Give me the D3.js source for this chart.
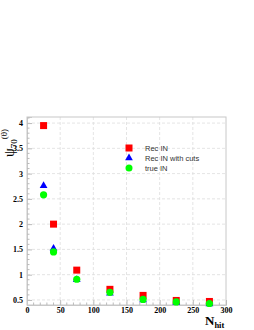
<!DOCTYPE html>
<html>
<head>
<meta charset="utf-8">
<script src="https://cdn.jsdelivr.net/npm/d3@7"></script>
<style>
  body { margin: 0; background: #fff; }
  svg { display: block; }
  .tick_label { font-family: "Liberation Serif", "DejaVu Serif", serif; font-weight: bold; font-size: 8px; fill: #000; }
  .legend_text { font-family: "Liberation Sans", Arial, sans-serif; font-size: 7.5px; fill: #333; }
  .grid { stroke: #ddd; stroke-width: 0.8; stroke-dasharray: 3,2; }
</style>
</head>
<body>
<svg id="chart" width="254" height="330"></svg>
<script>
let nhit = [25, 40, 75, 125, 175, 225, 275];
let recIn = [3.95, 2.0, 1.09, 0.71, 0.59, 0.49, 0.47];
let recInCuts = [2.76, 1.52, 0.90, 0.63, 0.50, 0.45, 0.42];
let trueIn = [2.58, 1.45, 0.91, 0.65, 0.51, 0.46, 0.43];
let xTicks = [0, 50, 100, 150, 200, 250, 300];
let yTicks = [0.5, 1, 1.5, 2, 2.5, 3, 3.5, 4];
let legendLabels = ["Rec IN", "Rec IN with cuts", "true IN"];

let svg = d3.select("#chart");

let xScale = d3.scaleLinear()
    .domain([0, 300])
    .range([27, 226]);

let yScale = d3.scaleLinear()
    .domain([0.4, 4.12])
    .range([305, 117]);

// grid
svg.append("g")
    .selectAll("line")
    .data(xTicks.slice(1, -1))
    .enter()
    .append("line")
    .attr("class", "grid")
    .attr("x1", d => xScale(d)).attr("x2", d => xScale(d))
    .attr("y1", yScale.range()[0]).attr("y2", yScale.range()[1]);

svg.append("g")
    .selectAll("line")
    .data(yTicks)
    .enter()
    .append("line")
    .attr("class", "grid")
    .attr("x1", xScale.range()[0]).attr("x2", xScale.range()[1])
    .attr("y1", d => yScale(d)).attr("y2", d => yScale(d));

// frame
svg.append("rect")
    .attr("x", xScale.range()[0])
    .attr("y", yScale.range()[1])
    .attr("width", xScale.range()[1] - xScale.range()[0])
    .attr("height", yScale.range()[0] - yScale.range()[1])
    .attr("fill", "none")
    .attr("stroke", "#c8c8c8")
    .attr("stroke-width", 1);

// axes with inner ticks
let xAxis = d3.axisBottom(xScale)
    .tickValues(xTicks)
    .tickSize(-5)
    .tickPadding(4)
    .tickFormat(d3.format("d"));

let gx = svg.append("g")
    .attr("transform", "translate(0," + yScale.range()[0] + ")")
    .call(xAxis);

let yAxis = d3.axisLeft(yScale)
    .tickValues(yTicks)
    .tickSize(-5)
    .tickPadding(4)
    .tickFormat(d => d);

let gy = svg.append("g")
    .attr("transform", "translate(" + xScale.range()[0] + ",0)")
    .call(yAxis);

[gx, gy].forEach(g => {
    g.select(".domain").attr("stroke", "#c8c8c8");
    g.selectAll(".tick line").attr("stroke", "#bbb");
    g.selectAll(".tick text").attr("class", "tick_label");
});
gx.selectAll(".tick text").attr("dy", "0.55em");

// minor ticks
svg.append("g")
    .selectAll("line")
    .data(d3.range(10, 300, 10).filter(d => d % 50))
    .enter()
    .append("line")
    .attr("x1", d => xScale(d)).attr("x2", d => xScale(d))
    .attr("y1", yScale.range()[0]).attr("y2", yScale.range()[0] - 2.5)
    .attr("stroke", "#bbb");

svg.append("g")
    .selectAll("line")
    .data(d3.range(0.5, 4.11, 0.1).filter(d => Math.abs(d * 2 - Math.round(d * 2)) > 0.01))
    .enter()
    .append("line")
    .attr("x1", xScale.range()[0]).attr("x2", xScale.range()[0] + 2.5)
    .attr("y1", d => yScale(d)).attr("y2", d => yScale(d))
    .attr("stroke", "#bbb");

// data markers
let sq = 7;
svg.append("g")
    .selectAll("rect")
    .data(nhit.map((n, i) => [n, recIn[i]]))
    .enter()
    .append("rect")
    .attr("x", d => xScale(d[0]) - sq / 2)
    .attr("y", d => yScale(d[1]) - sq / 2)
    .attr("width", sq).attr("height", sq)
    .attr("fill", "#ff0000");

let tri = d3.symbol().type(d3.symbolTriangle).size(26);
svg.append("g")
    .selectAll("path")
    .data(nhit.map((n, i) => [n, recInCuts[i]]))
    .enter()
    .append("path")
    .attr("d", tri)
    .attr("transform", d => "translate(" + xScale(d[0]) + "," + yScale(d[1]) + ")")
    .attr("fill", "#0000ff");

svg.append("g")
    .selectAll("circle")
    .data(nhit.map((n, i) => [n, trueIn[i]]))
    .enter()
    .append("circle")
    .attr("cx", d => xScale(d[0]))
    .attr("cy", d => yScale(d[1]))
    .attr("r", 3.6)
    .attr("fill", "#00ff00");

// legend
let legend = svg.append("g").attr("transform", "translate(129,148)");
legend.append("rect").attr("x", -3.5).attr("y", -3.5).attr("width", 7).attr("height", 7).attr("fill", "#ff0000");
legend.append("path").attr("d", tri).attr("transform", "translate(0,10)").attr("fill", "#0000ff");
legend.append("circle").attr("cx", 0).attr("cy", 20).attr("r", 3.5).attr("fill", "#00ff00");
legend.selectAll("text")
    .data(legendLabels)
    .enter()
    .append("text")
    .attr("class", "legend_text")
    .attr("x", 16)
    .attr("y", (d, i) => i * 10 + 2.5)
    .text(d => d);

// axis titles
let xt = svg.append("text")
    .attr("x", 205)
    .attr("y", 325)
    .attr("font-family", "Liberation Serif, serif")
    .attr("font-weight", "bold")
    .attr("font-size", 13);
xt.append("tspan").text("N");
xt.append("tspan").attr("dy", 2.5).attr("font-size", 8.5).text("hit");

let yt = svg.append("text")
    .attr("transform", "translate(14,157) rotate(-90)")
    .attr("font-family", "Liberation Serif, serif")
    .attr("font-size", 14);
yt.append("tspan").text("ψ");
yt.append("tspan").attr("dy", 3).attr("font-size", 9).text("70");
yt.append("tspan").attr("dy", -10).attr("font-size", 9).text("(θ)");
</script>
</body>
</html>
